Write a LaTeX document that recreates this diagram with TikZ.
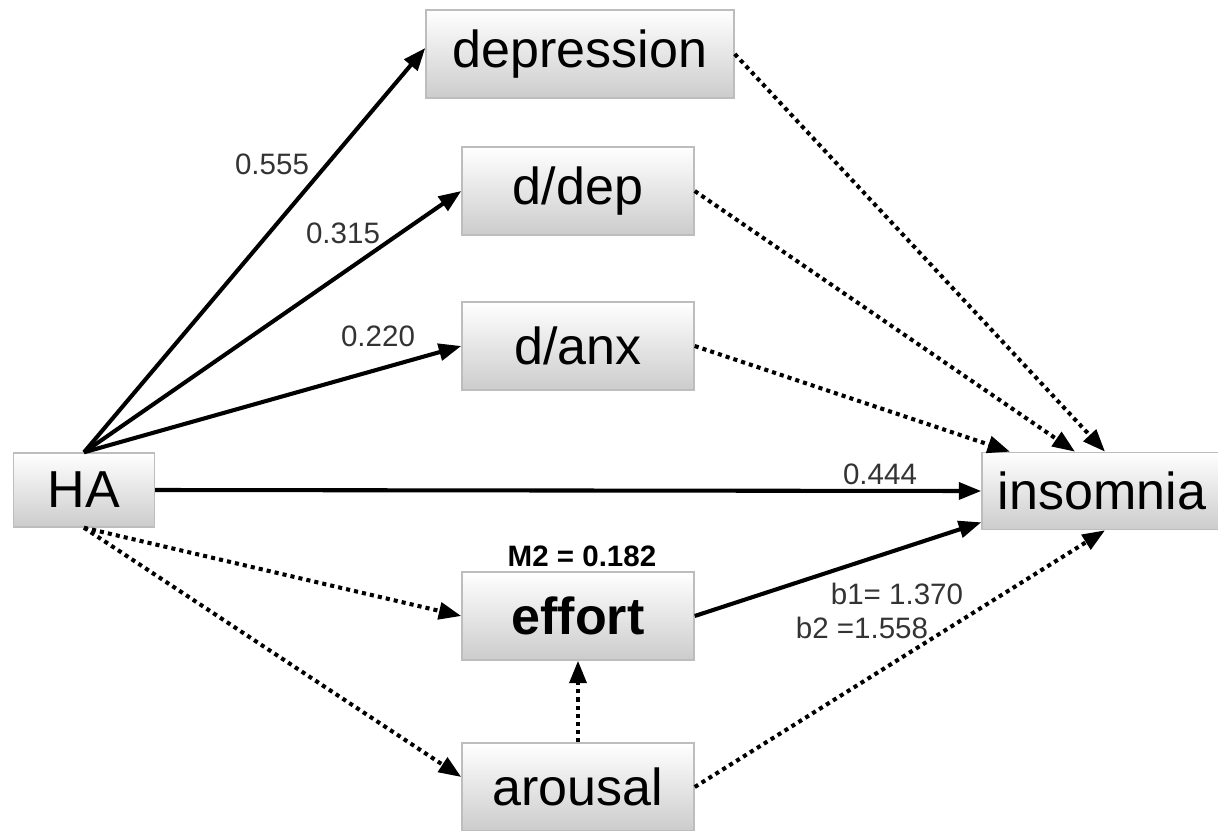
\documentclass[tikz,border=0pt]{standalone}
\usepackage{fontspec}
\setmainfont{Liberation Sans}
\usetikzlibrary{calc,arrows.meta}
\definecolor{ink}{gray}{0.0}
\definecolor{edge}{gray}{0.74}
\definecolor{fade}{gray}{0.80}
\definecolor{note}{gray}{0.20}

\tikzset{
  var/.style={draw=edge, line width=1pt, top color=white, bottom color=fade,
    inner sep=0pt, minimum width=5.8cm, minimum height=2.2cm,
    font=\fontsize{37}{40}\selectfont},
  effect/.style={ink, line width=2.9pt, -{Triangle[length=16pt,width=12pt]}},
  weak/.style={effect, dash pattern=on 2.9pt off 2.9pt},
  coef/.style={text=note, font=\fontsize{21}{24}\selectfont}
}

\begin{document}
\begin{tikzpicture}[x=0.025cm, y=-0.025cm]
  \useasboundingbox (0,0) rectangle (1218,830);

  % variables
  \node[var, minimum width=7.7cm] (dep) at (580,54) {depression};
  \node[var] (ddep) at (578,191) {d/dep};
  \node[var] (danx) at (578,346) {d/anx};
  \node[var, minimum width=3.52cm, minimum height=1.85cm] (ha) at (84,490) {HA};
  \node[var, minimum width=6cm, minimum height=1.93cm] (ins) at (1102,491) {insomnia};
  \node[var, font=\bfseries\fontsize{37}{40}\selectfont] (eff) at (578,616) {effort};
  \node[var] (aro) at (578,787) {arousal};

  % coefficients
  \node[coef] (a1) at (272,164) {0.555};
  \node[coef] (a2) at (343,233) {0.315};
  \node[coef] (a3) at (378,336) {0.220};
  \node[coef] (c) at (880,474) {0.444};
  \node[font=\bfseries\fontsize{21}{24}\selectfont] (m2) at (582,556) {M2 = 0.182};
  \node[coef] (b1) at (897,594) {b1= 1.370};
  \node[coef] (b2) at (862,628) {b2 =1.558};

  % HA paths
  \draw[effect] (ha.north) -- ($(dep.west)+(0,-6)$);
  \draw[effect] (ha.north) -- (ddep.west);
  \draw[effect] (ha.north) -- (danx.west);
  \draw[effect] (ha.east) -- (ins.west);
  \draw[weak] (ha.south) -- (eff.west);
  \draw[weak] (ha.south) -- ($(aro.west)+(0,-10)$);

  % mediators to insomnia
  \draw[weak] (dep.east) -- ($(ins.north)+(3,0)$);
  \draw[weak] (ddep.east) -- ($(ins.north)+(-27,0)$);
  \draw[weak] (danx.east) -- ($(ins.north)+(-92,0)$);
  \draw[effect] (eff.east) -- ($(ins.south west)+(0,-8)$);
  \draw[weak] (aro.east) -- ($(ins.south)+(3,0)$);
  \draw[weak] (aro.north) -- (eff.south);
\end{tikzpicture}
\end{document}
